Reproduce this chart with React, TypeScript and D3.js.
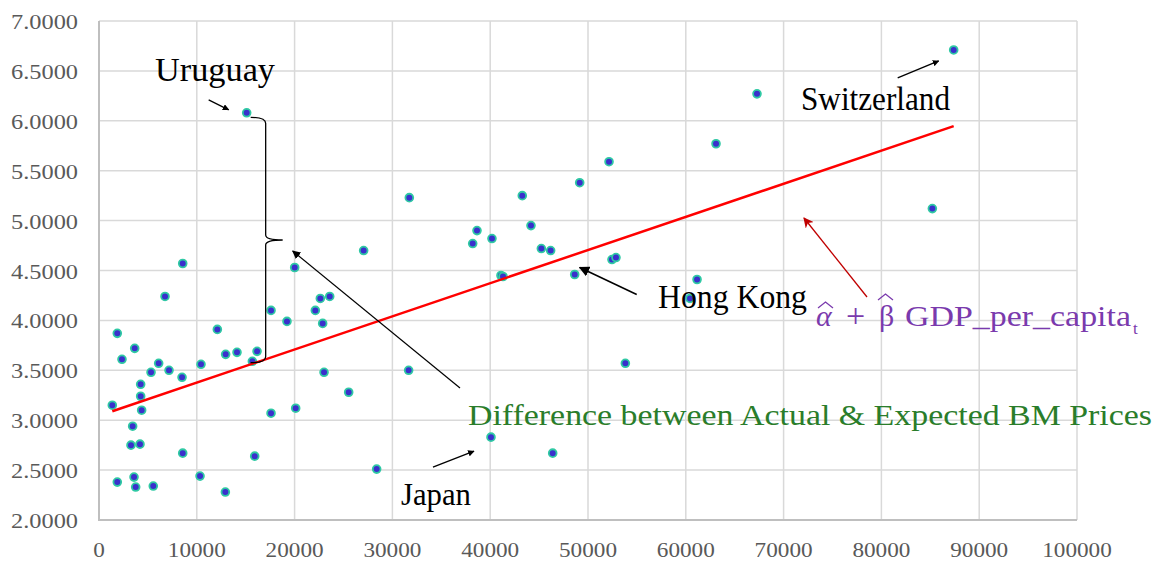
import React from 'react';
import * as d3 from 'd3';

// GDP per capita (USD) vs Big Mac price (USD)
const gdpPerCapita = [
  1360, 1870, 1870, 2350, 3440, 3270, 3650, 3580, 3750, 4260, 4260, 4360, 4190,
  5320, 6100, 5550, 6750, 7160, 8490, 8560, 8560, 10430, 10330, 12100, 12950,
  14110, 12920, 15680, 16160, 15920, 17590, 17590, 19220, 20010, 20110, 22120,
  22630, 23590, 22870, 23010, 25530, 28390, 15100, 27060, 31730, 31660, 38210,
  38650, 40180, 41100, 41310, 43280, 44170, 45230, 46180, 49150, 52150, 48640,
  52450, 52860, 53820, 40080, 46390, 61150, 60430, 63090, 67280, 85210, 87390,
];
const bmPrice = [
  3.15, 3.87, 2.38, 3.61, 2.94, 2.75, 3.72, 2.43, 2.33, 3.36, 3.24, 3.10, 2.76,
  3.48, 3.57, 2.34, 4.24, 3.50, 3.43, 4.57, 2.67, 3.56, 2.44, 3.91, 3.66,
  3.68, 2.28, 3.59, 3.69, 2.64, 4.10, 3.07, 3.99, 4.53, 3.12, 4.10,
  4.22, 4.24, 3.97, 3.48, 3.28, 2.51, 6.08, 4.70, 5.23, 3.50, 4.77,
  4.90, 4.82, 4.45, 4.44, 5.25, 4.95, 4.72, 4.70, 5.38, 5.59, 4.46,
  4.61, 4.63, 3.57, 2.83, 2.67, 4.41, 4.22, 5.77, 6.27, 5.12, 6.71,
];

// fitted line: alpha + beta * GDP
const alpha = 3.045;
const beta = 3.32e-5;

const yTicks = [2, 2.5, 3, 3.5, 4, 4.5, 5, 5.5, 6, 6.5, 7];
const xTicks = [0, 10000, 20000, 30000, 40000, 50000, 60000, 70000, 80000, 90000, 100000];

// labelled countries (index into the arrays above)
const URUGUAY = 42;
const HONG_KONG = 57;
const JAPAN = 61;
const SWITZERLAND = 68;

const W = 1156;
const H = 561;
const serif = "'Liberation Serif', 'DejaVu Serif', serif";

export default function App() {
  const x = d3.scaleLinear().domain([0, 100000]).range([99, 1077]);
  const y = d3.scaleLinear().domain([2, 7]).range([520, 21]);

  const points = gdpPerCapita.map((g, i) => ({ g, p: bmPrice[i] }));
  const [gMin, gMax] = d3.extent(gdpPerCapita) as [number, number];
  const fit = d3.line<number>()
    .x(g => x(g))
    .y(g => y(alpha + beta * g));

  // brace between Uruguay's price and the fitted value
  const ug = points[URUGUAY];
  const bx = x(ug.g) + 19;
  const bTop = y(ug.p) + 4.5;
  const bBot = y(alpha + beta * ug.g) - 3;
  const bMid = (bTop + bBot) / 2;
  const brace = `M${bx - 15},${bTop} Q${bx},${bTop} ${bx},${bTop + 6} L${bx},${bMid - 5} ` +
    `Q${bx},${bMid} ${bx + 17},${bMid} Q${bx},${bMid} ${bx},${bMid + 5} L${bx},${bBot - 6} ` +
    `Q${bx},${bBot} ${bx - 15},${bBot}`;

  const at = (i: number) => [x(points[i].g), y(points[i].p)];
  const [ux, uy] = at(URUGUAY);
  const [hx, hy] = at(HONG_KONG);
  const [jx, jy] = at(JAPAN);
  const [sx, sy] = at(SWITZERLAND);

  return (
    <svg width={W} height={H} style={{ position: 'absolute', left: 0, top: 0, background: '#fff' }}>
      <defs>
        <marker id="ah" viewBox="0 0 10 10" refX="9" refY="5" markerWidth="5" markerHeight="5" orient="auto">
          <path d="M0,0 L10,5 L0,10 z" fill="#000" />
        </marker>
        <marker id="ahBig" viewBox="0 0 10 10" refX="9" refY="5" markerWidth="7" markerHeight="7" orient="auto">
          <path d="M0,0 L10,5 L0,10 z" fill="#000" />
        </marker>
        <marker id="ahRed" viewBox="0 0 10 10" refX="9" refY="5" markerWidth="8" markerHeight="8" orient="auto">
          <path d="M0,0 L10,5 L0,10 L3,5 z" fill="#c00000" />
        </marker>
      </defs>

      {/* grid */}
      {yTicks.map(t => (
        <line key={'gy' + t} x1={x(0)} x2={x(100000)} y1={y(t)} y2={y(t)} stroke="#d9d9d9" strokeWidth={1.5} />
      ))}
      {xTicks.map(t => (
        <line key={'gx' + t} x1={x(t)} x2={x(t)} y1={y(7)} y2={y(2)} stroke="#d9d9d9" strokeWidth={1.5} />
      ))}
      <line x1={x(0)} x2={x(0)} y1={y(7)} y2={y(2) + 1} stroke="#bfbfbf" strokeWidth={2} />
      <line x1={x(0) - 1} x2={x(100000)} y1={y(2)} y2={y(2)} stroke="#bfbfbf" strokeWidth={2} />

      {/* tick labels */}
      {yTicks.map(t => (
        <text key={'ly' + t} x={78} y={y(t) + 8} textAnchor="end" fontFamily={serif} fontSize={22}
          fill="#595959" textLength={67} lengthAdjust="spacingAndGlyphs">
          {t.toFixed(4)}
        </text>
      ))}
      {xTicks.map(t => {
        const s = String(t);
        return (
          <text key={'lx' + t} x={x(t)} y={557} textAnchor="middle" fontFamily={serif} fontSize={20}
            fill="#595959" textLength={s.length * 11.6} lengthAdjust="spacingAndGlyphs">
            {s}
          </text>
        );
      })}

      {/* points */}
      {points.map((d, i) => (
        <circle key={i} cx={x(d.g)} cy={y(d.p)} r={3.9} fill="#3a30cc" stroke="#2fc9a4" strokeWidth={1.8} />
      ))}

      {/* fitted line */}
      <path d={fit([gMin, gMax]) || ''} fill="none" stroke="#ff0000" strokeWidth={2.5} />

      {/* brace + arrow from explanation text */}
      <path d={brace} fill="none" stroke="#000" strokeWidth={1.3} />
      <line x1={460} y1={388} x2={bx + 27} y2={bMid + 11} stroke="#000" strokeWidth={1.2} markerEnd="url(#ahBig)" />

      {/* country labels */}
      <text x={155} y={81} fontFamily={serif} fontSize={34} fill="#000" textLength={120} lengthAdjust="spacingAndGlyphs">Uruguay</text>
      <line x1={ux - 38} y1={uy - 13} x2={ux - 18} y2={uy - 3} stroke="#000" strokeWidth={1.3} markerEnd="url(#ah)" />

      <text x={401} y={505} fontFamily={serif} fontSize={31} fill="#000" textLength={70} lengthAdjust="spacingAndGlyphs">Japan</text>
      <line x1={jx - 58} y1={jy + 30} x2={jx - 17} y2={jy + 14} stroke="#000" strokeWidth={1.3} markerEnd="url(#ah)" />

      <text x={658} y={308} fontFamily={serif} fontSize={33} fill="#000" textLength={149} lengthAdjust="spacingAndGlyphs">Hong Kong</text>
      <line x1={hx + 62} y1={hy + 20} x2={hx + 5} y2={hy - 7} stroke="#000" strokeWidth={1.5} markerEnd="url(#ahBig)" />

      <text x={801} y={110} fontFamily={serif} fontSize={33} fill="#000" textLength={149} lengthAdjust="spacingAndGlyphs">Switzerland</text>
      <line x1={sx - 56} y1={sy + 28} x2={sx - 15} y2={sy + 11} stroke="#000" strokeWidth={1.3} markerEnd="url(#ah)" />

      {/* explanation */}
      <text x={468} y={425} fontFamily={serif} fontSize={30} fill="#2a7d2a" textLength={684} lengthAdjust="spacingAndGlyphs">
        Difference between Actual &amp; Expected BM Prices
      </text>

      {/* fitted-line formula */}
      <line x1={867} y1={297} x2={804} y2={218} stroke="#c00000" strokeWidth={1.3} markerEnd="url(#ahRed)" />
      <g fill="#7a3aad" fontFamily={serif}>
        <text x={816} y={326} fontSize={30} fontStyle="italic">α</text>
        <path d="M818,308 L825.5,302 L833,308" fill="none" stroke="#7a3aad" strokeWidth={1.3} />
        <text x={846} y={327} fontSize={34}>+</text>
        <text x={879} y={326} fontSize={30}>β</text>
        <path d="M878,300 L885.5,294 L893,300" fill="none" stroke="#7a3aad" strokeWidth={1.3} />
        <text x={905} y={326} fontSize={30} textLength={226} lengthAdjust="spacingAndGlyphs">GDP_per_capita</text>
        <text x={1133} y={334} fontSize={17}>t</text>
      </g>
    </svg>
  );
}
